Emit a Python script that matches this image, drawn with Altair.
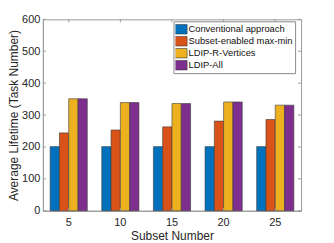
import altair as alt
import pandas as pd

subsets = ["5", "10", "15", "20", "25"]
series = ["Conventional approach", "Subset-enabled max-min", "LDIP-R-Vertices", "LDIP-All"]
conventional = [201, 201, 201, 201, 201]
subset_maxmin = [244, 253, 263, 281, 286]
ldip_r_vertices = [351, 339, 336, 341, 331]
ldip_all = [351, 339, 336, 341, 331]
colors = ["#0072BD", "#D95319", "#EDB120", "#7E2F8E"]
y_ticks = [0, 100, 200, 300, 400, 500, 600]

rows = []
for name, vals in zip(series, [conventional, subset_maxmin, ldip_r_vertices, ldip_all]):
    for s, v in zip(subsets, vals):
        rows.append({"subset": s, "method": name, "value": v})
df = pd.DataFrame(rows)

FONT = "Liberation Sans"
TXT = "#262626"
AX = "#9a9a9a"
XT = "Subset Number"
YT = "Average Lifetime (Task Number)"
W, H = 259, 192

xscale = alt.Scale(paddingInner=0.28, paddingOuter=0.14)
yscale = alt.Scale(domain=[0, 600], nice=False)
xaxis = alt.Axis(labelAngle=0, ticks=False, labelPadding=6, titlePadding=3)
yaxis = alt.Axis(values=y_ticks, ticks=False, labelPadding=3, titlePadding=1,
                 grid=False, labelOverlap=False, labelFlush=False)

bars = alt.Chart(df).mark_bar(stroke="#3a3a3a", strokeWidth=0.6).encode(
    x=alt.X("subset:N", sort=subsets, title=XT, scale=xscale, axis=xaxis),
    xOffset=alt.XOffset("method:N", sort=series, scale=alt.Scale(paddingInner=0, paddingOuter=0)),
    y=alt.Y("value:Q", scale=yscale, title=YT, axis=yaxis),
    color=alt.Color("method:N", sort=series, scale=alt.Scale(domain=series, range=colors),
                    legend=alt.Legend(title=None, orient="none", legendX=131, legendY=2,
                                      fillColor="white", strokeColor="#8a8a8a", padding=2,
                                      symbolType="M-1.3,-1H1.3V1H-1.3Z", symbolSize=90,
                                      symbolStrokeColor="#3a3a3a", symbolStrokeWidth=0.6,
                                      labelFontSize=9.4, labelFont=FONT, labelColor="#111111",
                                      rowPadding=0, labelOffset=2, clipHeight=12)),
)

ytick_df = pd.DataFrame({"v": y_ticks})
xtick_df = pd.DataFrame({"subset": subsets})

yl = alt.Chart(ytick_df).mark_rule(color=AX, strokeWidth=1).encode(
    y=alt.Y("v:Q", scale=yscale, title=YT, axis=yaxis), x=alt.value(0), x2=alt.value(3))
yr = alt.Chart(ytick_df).mark_rule(color=AX, strokeWidth=1).encode(
    y=alt.Y("v:Q", scale=yscale, title=YT, axis=yaxis), x=alt.value(W - 3), x2=alt.value(W))
xb = alt.Chart(xtick_df).mark_rule(color=AX, strokeWidth=1).encode(
    x=alt.X("subset:N", sort=subsets, title=XT, bandPosition=0.5, axis=xaxis),
    y=alt.value(H), y2=alt.value(H - 3))
xt = alt.Chart(xtick_df).mark_rule(color=AX, strokeWidth=1).encode(
    x=alt.X("subset:N", sort=subsets, title=XT, bandPosition=0.5, axis=xaxis),
    y=alt.value(0), y2=alt.value(3))

chart = alt.layer(bars, yl, yr, xb, xt).properties(
    width=W, height=H,
    autosize=alt.AutoSizeParams(type="none"),
    padding={"left": 35, "top": 11, "right": 25, "bottom": 32},
    background="white",
).configure_view(stroke=AX, strokeWidth=1).configure_axis(
    domainColor=AX, labelFont=FONT, titleFont=FONT, labelFontSize=11, titleFontSize=12,
    titleFontWeight="normal", labelColor=TXT, titleColor=TXT,
)

chart.save("out.html", embed_options={"renderer": "svg", "actions": False})
